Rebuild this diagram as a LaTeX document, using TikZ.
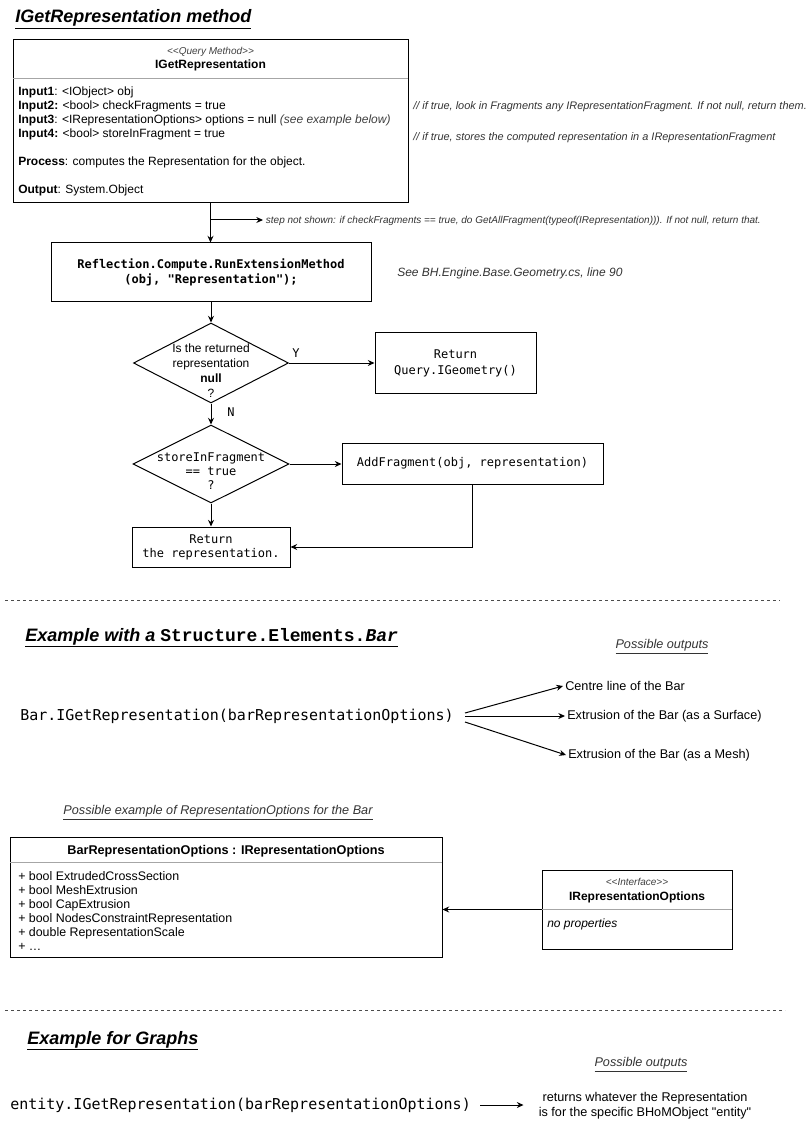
\documentclass[tikz,border=0pt]{standalone}
\usepackage{fontspec}
\setmainfont{Liberation Sans}[Ligatures=TeXOff]
\setmonofont{DejaVu Sans Mono}
\newfontfamily\courierfont{Liberation Mono}
\usetikzlibrary{arrows.meta,fit,shapes.geometric}
\newcommand{\umlSep}[3]{
  \draw[gray!70,line width=0.75pt] (#1,#3) -- (#2,#3);
}
\newcommand{\stereo}[1]{{\itshape\color{black!75}<\kern0pt<#1>\kern0pt>}}
\tikzset{
  box/.style={draw,line width=0.75pt,inner sep=0pt},
  decision/.style={draw,diamond,line width=0.75pt,inner sep=0pt},
  arr/.style={line width=0.75pt,-{Stealth[length=5pt,width=4.5pt]}},
  line/.style={anchor=base west,inner sep=0pt,font=\fontsize{9}{10.5}\selectfont},
  code/.style={font=\ttfamily\fontsize{9}{11.25}\selectfont,align=center},
  note/.style={inner sep=0pt,font=\itshape\fontsize{8.2}{9}\selectfont,text=black!80},
  heading/.style={anchor=base west,inner sep=0pt,font=\bfseries\itshape\fontsize{13.5}{16}\selectfont},
  caption/.style={font=\itshape\fontsize{9.5}{11}\selectfont,text=black!80},
  outtext/.style={anchor=west,inner sep=1.5pt,font=\fontsize{9.5}{11}\selectfont},
  sep line/.style={dashed,dash pattern=on 2.25pt off 2.25pt,black!70,line width=0.75pt},
}

\begin{document}
\begin{tikzpicture}[x=0.75pt,y=-0.75pt]
  \useasboundingbox (0,0) rectangle (810,1126);

  %method
  \node[heading] (title) at (15,22.5) {\underline{IGetRepresentation method}};

  \node[box,fit={(13,40) (408,203)}] (query) {};
  \umlSep{13}{408}{79}
  \node[anchor=base,inner sep=0pt,font=\fontsize{7.5}{9}\selectfont] (qstereo) at (210.5,54.5) {\stereo{Query Method}};
  \node[anchor=base,inner sep=0pt,font=\bfseries\fontsize{9}{10.5}\selectfont] (qname) at (210.5,69) {IGetRepresentation};
  \node[line] (in1) at (18,96) {\textbf{Input1}: <IObject> obj};
  \node[line] (in2) at (18,110) {\textbf{Input2:} <bool> checkFragments = true};
  \node[line] (in3) at (18,124) {\textbf{Input3}: <IRepresentationOptions> options = null {\itshape\color{black!75}(see example below)}};
  \node[line] (in4) at (18,138) {\textbf{Input4:} <bool> storeInFragment = true};
  \node[line] (proc) at (18,166) {\textbf{Process}: computes the Representation for the object.};
  \node[line] (outp) at (18,194) {\textbf{Output}: System.Object};

  %comments
  \node[note,anchor=base west] (cin2) at (413,110) {// if true, look in Fragments any IRepresentationFragment. If not null, return them.};
  \node[note,anchor=base west] (cin4) at (413,141) {// if true, stores the computed representation in a IRepresentationFragment};

  %flow
  \node[box,code,minimum width=240pt,minimum height=44.25pt] (run) at (211,272.5) {\bfseries Reflection.Compute.RunExtensionMethod\\\bfseries(obj, "Representation");};
  \node[note,anchor=west,font=\itshape\fontsize{9}{10.5}\selectfont] (seeref) at (397,273) {See BH.Engine.Base.Geometry.cs, line 90};
  \draw[arr] (query.south) -- (query.south |- run.north);

  \coordinate (fork) at (210.5,220);
  \node[note,anchor=west,inner sep=2pt,font=\itshape\fontsize{7.5}{8}\selectfont] (stepnote) at (263,221) {step not shown: if checkFragments == true, do GetAllFragment(typeof(IRepresentation))). If not null, return that.};
  \draw[arr] (fork) -- (fork -| stepnote.west);

  \node[decision,minimum width=116.25pt,minimum height=60pt] (isnull) at (211,363) {};
  \node[align=center,inner sep=0pt,font=\fontsize{9}{11.25}\selectfont] (isnulltxt) at (211,371) {Is the returned\\representation\\\textbf{null}\\?};
  \node[box,code,font=\ttfamily\fontsize{9}{12}\selectfont,minimum width=120.75pt,minimum height=45pt] (retgeo) at (455.5,363) {Return\\Query.IGeometry()};
  \node[font=\ttfamily\fontsize{9}{11}\selectfont] (yes) at (296,353) {Y};
  \draw[arr] (run) -- (isnull);
  \draw[arr] (isnull) -- (retgeo);

  \node[decision,minimum width=117pt,minimum height=58.5pt] (store) at (211,464) {};
  \node[code,inner sep=0pt,font=\ttfamily\fontsize{9}{10.5}\selectfont] (storetxt) at (211,471) {storeInFragment\\== true\\?};
  \node[font=\ttfamily\fontsize{9}{11}\selectfont] (no) at (231,412) {N};
  \draw[arr] (isnull) -- (store);

  \node[box,code,minimum width=195.75pt,minimum height=30.75pt] (addfrag) at (472.5,463.5) {AddFragment(obj, representation)};
  \node[box,code,font=\ttfamily\fontsize{9}{10.5}\selectfont,minimum width=118.5pt,minimum height=30pt] (retrep) at (211,547) {Return\\the representation.};
  \draw[arr] (store.east) -- (store.east -| addfrag.west);
  \draw[arr] (store) -- (retrep);
  \draw[arr] (addfrag.south) |- (retrep.east);

  %bar example
  \draw[sep line] (5,600) -- (780,600);
  \node[heading] (bartitle) at (25,641) {\underline{Example with a {\courierfont\upshape Structure.Elements.\itshape Bar}}};
  \node[caption] (possible1) at (662,647) {\underline{Possible outputs}};

  \node[anchor=west,inner sep=0pt,font=\ttfamily\fontsize{11.25}{13}\selectfont] (barcall) at (20,716) {Bar.IGetRepresentation(barRepresentationOptions)};
  \node[outtext] (out1) at (563,686) {Centre line of the Bar};
  \node[outtext] (out2) at (565,716) {Extrusion of the Bar (as a Surface)};
  \node[outtext] (out3) at (566,755) {Extrusion of the Bar (as a Mesh)};
  \draw[arr] ([shift={(11,-3)}]barcall.east) -- (out1.west);
  \draw[arr] ([shift={(11,0)}]barcall.east) -- (out2.west);
  \draw[arr] ([shift={(11,6)}]barcall.east) -- (out3.west);

  \node[caption] (optcap) at (218,813) {\underline{Possible example of RepresentationOptions for the Bar}};

  \node[box,fit={(10,837) (442,957)}] (baropts) {};
  \umlSep{10}{442}{862}
  \node[anchor=base,inner sep=0pt,font=\bfseries\fontsize{9.5}{11}\selectfont] (barhead) at (226,854.5) {BarRepresentationOptions : IRepresentationOptions};
  \foreach \t [count=\i] in {+ bool ExtrudedCrossSection, + bool MeshExtrusion, + bool CapExtrusion,
      + bool NodesConstraintRepresentation, + double RepresentationScale, {+ \ldots}}
    \node[line,font=\fontsize{9.3}{10.5}\selectfont] (attr\i) at (18,866+14*\i) {\t};

  \node[box,fit={(542,870) (732,949)}] (irep) {};
  \umlSep{542}{732}{909}
  \node[anchor=base,inner sep=0pt,font=\fontsize{7.5}{9}\selectfont] (istereo) at (637,885.5) {\stereo{Interface}};
  \node[anchor=base,inner sep=0pt,font=\bfseries\fontsize{9}{10.5}\selectfont] (iname) at (637,900) {IRepresentationOptions};
  \node[line,font=\itshape\fontsize{9}{10.5}\selectfont] (inoprop) at (547,927) {no properties};
  \draw[arr] (irep.west) -- (irep.west -| baropts.east);

  %graph example
  \draw[sep line] (5,1010) -- (785,1010);
  \node[heading] (graphtitle) at (27,1044) {\underline{Example for Graphs}};
  \node[caption] (possible2) at (641,1065) {\underline{Possible outputs}};

  \node[anchor=west,inner sep=0pt,font=\ttfamily\fontsize{11.25}{13}\selectfont] (entitycall) at (10,1105) {entity.IGetRepresentation(barRepresentationOptions)};
  \node[align=center,inner sep=0pt,font=\fontsize{9.5}{11.25}\selectfont] (entityout) at (645,1106) {returns whatever the Representation\\is for the specific BHoMObject "entity"};
  \draw[arr] ([shift={(9,0)}]entitycall.east) -- ([shift={(-15,0)}]entitycall.east -| entityout.west);

\end{tikzpicture}
\end{document}
